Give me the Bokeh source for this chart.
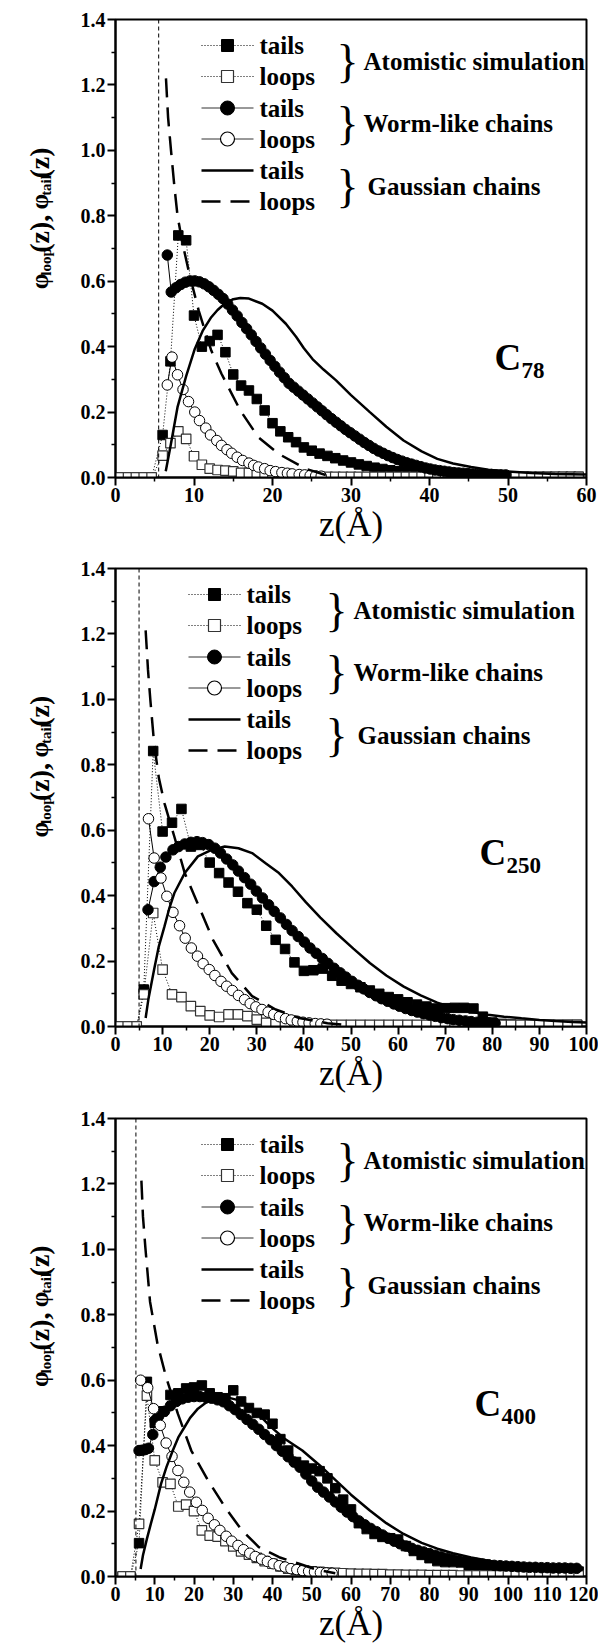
import math
from bokeh.plotting import figure
from bokeh.layouts import column, row
from bokeh.models import Range1d, FixedTicker, PrintfTickFormatter, Span
from bokeh.core.properties import value
from bokeh.embed import file_html
from bokeh.resources import INLINE

FONT = "Liberation Serif"

# ---------------- tick labels / names ----------------
y_ticks = [0.0, 0.2, 0.4, 0.6, 0.8, 1.0, 1.2, 1.4]
y_minor = [0.1, 0.3, 0.5, 0.7, 0.9, 1.1, 1.3]
x_ticks_c78 = [0, 10, 20, 30, 40, 50, 60]
x_minor_c78 = [5, 15, 25, 35, 45, 55]
x_ticks_c250 = [0, 10, 20, 30, 40, 50, 60, 70, 80, 90, 100]
x_minor_c250 = [5, 15, 25, 35, 45, 55, 65, 75, 85, 95]
x_ticks_c400 = [0, 10, 20, 30, 40, 50, 60, 70, 80, 90, 100, 110, 120]
x_minor_c400 = [5, 15, 25, 35, 45, 55, 65, 75, 85, 95, 105, 115]
legend_rows = ["tails", "loops", "tails", "loops", "tails", "loops"]
legend_groups = ["Atomistic simulation", "Worm-like chains", "Gaussian chains"]
y_title_parts = ["φ", "loop", "(z),", "φ", "tail", "(z)"]
wall_z = [5.5, 5.0, 5.2]

# ================= C78 =================
c78_at_x = [0.6, 1.6, 2.6, 3.6, 4.6,
            6, 7, 8, 9, 10, 11, 12, 13, 14, 15,
            16, 17, 18, 19, 20, 21, 22, 23, 24, 25,
            26, 27, 28, 29, 30, 31, 32, 33, 34, 35,
            36, 37, 38, 39, 40, 41, 42, 43, 44, 45,
            46, 47, 48, 49, 50, 51, 52, 53, 54, 55, 56, 57, 58, 59]
c78_at_tail = [0, 0, 0, 0, 0,
               0.130, 0.355, 0.740, 0.725, 0.495, 0.400, 0.417, 0.436, 0.383, 0.315,
               0.281, 0.266, 0.240, 0.205, 0.166, 0.141, 0.123, 0.108, 0.092, 0.082,
               0.073, 0.066, 0.059, 0.052, 0.046, 0.040, 0.035, 0.030, 0.026, 0.022,
               0.019, 0.016, 0.014, 0.012, 0.010, 0.009, 0.008, 0.007, 0.006, 0.005,
               0.004, 0.003, 0.003, 0.002, 0.002, 0.002, 0.002, 0.002, 0.002, 0.002, 0.002, 0.002, 0.002, 0.002]
c78_at_loop = [0, 0, 0, 0, 0,
               0.067, 0.105, 0.141, 0.118, 0.065, 0.039, 0.027, 0.023, 0.021, 0.019,
               0.014, 0.014, 0.009, 0.009, 0.007, 0.006, 0.005, 0.004, 0.003, 0.003,
               0.002, 0.002, 0.002, 0.002, 0.002, 0.002, 0.002, 0.002, 0.002, 0.002,
               0.002, 0.002, 0.002, 0.002, 0.002, 0.002, 0.002, 0.002, 0.002, 0.002,
               0.002, 0.002, 0.002, 0.002, 0.002, 0.002, 0.002, 0.002, 0.002, 0.002, 0.002, 0.002, 0.002, 0.002]
c78_wlc_tail_x = [6.6, 7.1, 7.7, 8.3, 8.9, 9.5, 10.1, 10.7, 11.3, 11.9,
                  12.5, 13.1, 13.7, 14.3, 14.9, 15.5, 16.1, 16.7, 17.3, 17.9,
                  18.5, 19.1, 19.7, 20.3, 20.9, 21.5, 22.1, 22.7, 23.3, 23.9,
                  24.5, 25.1, 25.7, 26.3, 26.9, 27.5, 28.1, 28.7, 29.3, 29.9,
                  30.5, 31.1, 31.7, 32.3, 32.9, 33.5, 34.1, 34.7, 35.3, 35.9,
                  36.5, 37.1, 37.7, 38.3, 38.9, 39.5, 40.1, 40.7, 41.3, 41.9,
                  42.5, 43.1, 43.7, 44.3, 44.9, 45.5, 46.1, 46.7, 47.3, 47.9,
                  48.5, 49.1, 49.7]
c78_wlc_tail = [0.680, 0.567, 0.580, 0.590, 0.597, 0.601, 0.601, 0.598, 0.592, 0.583,
                0.572, 0.560, 0.547, 0.530, 0.512, 0.494, 0.474, 0.455, 0.436, 0.416,
                0.396, 0.377, 0.358, 0.340, 0.322, 0.305, 0.288, 0.276, 0.264, 0.252,
                0.240, 0.228, 0.216, 0.204, 0.192, 0.180, 0.169, 0.158, 0.147, 0.137,
                0.127, 0.117, 0.107, 0.098, 0.089, 0.081, 0.074, 0.067, 0.061, 0.055,
                0.050, 0.045, 0.041, 0.037, 0.033, 0.029, 0.026, 0.023, 0.021, 0.019,
                0.017, 0.015, 0.014, 0.013, 0.012, 0.011, 0.010, 0.010, 0.009, 0.009,
                0.008, 0.008, 0.008]
c78_wlc_loop_x = [6.6, 7.2, 7.9, 8.6, 9.3, 10.1, 10.7, 11.5, 12.1, 12.9,
                  13.5, 14.2, 14.8, 15.5, 16.2, 17.0, 17.6, 18.2, 19.0, 19.7,
                  20.4, 21.2, 21.9, 22.5, 23.4, 24.1, 24.8, 25.5, 26.2]
c78_wlc_loop = [0.283, 0.368, 0.314, 0.269, 0.232, 0.200, 0.174, 0.151, 0.130, 0.113,
                0.098, 0.085, 0.074, 0.062, 0.052, 0.044, 0.037, 0.032, 0.027, 0.021,
                0.018, 0.015, 0.013, 0.011, 0.009, 0.008, 0.006, 0.005, 0.004]
c78_gauss_tail_x = [6.4, 7.0, 7.9, 9.0, 10.1, 11.1, 12.2, 13.0, 13.9, 15.0,
                    15.9, 17.0, 18.7, 20.0, 21.7, 23.0, 24.0, 25.1, 26.5, 28.1,
                    30.0, 32.4, 34.5, 36.7, 39.0, 41.0, 43.0, 45.3, 47.5, 49.6,
                    53.0, 56.0, 60.0]
c78_gauss_tail = [0.019, 0.095, 0.215, 0.310, 0.393, 0.448, 0.490, 0.512, 0.531, 0.545,
                  0.549, 0.547, 0.531, 0.510, 0.470, 0.430, 0.395, 0.362, 0.330, 0.297,
                  0.252, 0.200, 0.155, 0.113, 0.080, 0.057, 0.043, 0.032, 0.024, 0.019,
                  0.014, 0.011, 0.009]
c78_gauss_loop_x = [6.43, 6.7, 7.07, 7.5, 7.9, 8.5, 9.4, 10.6, 12.2, 13.5, 15.9, 18.2, 20.8, 24.2, 27.0]
c78_gauss_loop = [1.22, 1.10, 1.00, 0.89, 0.80, 0.72, 0.623, 0.51, 0.388, 0.317, 0.205, 0.123, 0.072, 0.027, 0.006]

# ================= C250 =================
c250_at_x = [0.7, 2.6, 4.5,
             6, 8, 10, 12, 14, 16, 18, 20, 22, 24,
             26, 28, 30, 32, 34, 36, 38, 40, 42, 44,
             46, 48, 50, 52, 54, 56, 58, 60, 62, 64,
             66, 68, 70, 72, 74, 76, 78, 80, 82, 84,
             86, 88, 90, 92, 94, 96, 98]
c250_at_tail = [0, 0, 0,
                0.113, 0.842, 0.596, 0.623, 0.665, 0.550, 0.555, 0.501, 0.469, 0.440,
                0.412, 0.377, 0.357, 0.308, 0.265, 0.237, 0.196, 0.170, 0.172, 0.177,
                0.155, 0.140, 0.130, 0.120, 0.110, 0.100, 0.090, 0.083, 0.074, 0.067,
                0.061, 0.055, 0.056, 0.057, 0.057, 0.055, 0.030, 0.012, 0.008, 0.006,
                0.005, 0.005, 0.005, 0.005, 0.005, 0.005, 0.005]
c250_at_loop = [0, 0, 0,
                0.098, 0.347, 0.174, 0.098, 0.090, 0.062, 0.047, 0.034, 0.029, 0.037,
                0.037, 0.032, 0.021, 0.011, 0.008, 0.006, 0.005, 0.005, 0.005, 0.005,
                0.005, 0.005, 0.005, 0.005, 0.005, 0.005, 0.005, 0.005, 0.005, 0.005,
                0.005, 0.005, 0.005, 0.005, 0.005, 0.005, 0.005, 0.005, 0.005, 0.005,
                0.005, 0.005, 0.005, 0.005, 0.005, 0.005, 0.005]
c250_wlc_tail_x = [6.9, 8.2, 9.5, 10.7, 12.2, 13.4, 14.7, 16.0, 17.3, 18.5,
                   19.8, 21.1, 22.3, 23.6, 24.9, 26.1, 27.4, 28.7, 29.9, 31.2,
                   32.5, 33.7, 35.0, 36.3, 37.5, 38.8, 40.1, 41.3, 42.6, 43.9,
                   45.1, 46.4, 47.7, 48.9, 50.2, 51.5, 52.7, 54.0, 55.3, 56.5,
                   57.8, 59.1, 60.3, 61.6, 62.9, 64.1, 65.4, 66.7, 67.9, 69.2,
                   70.5, 71.7, 73.0, 74.3, 75.5, 76.8, 78.1, 79.3, 80.6]
c250_wlc_tail = [0.357, 0.443, 0.487, 0.518, 0.540, 0.550, 0.558, 0.563, 0.565, 0.562,
                 0.556, 0.545, 0.530, 0.512, 0.494, 0.475, 0.455, 0.435, 0.414, 0.393,
                 0.372, 0.352, 0.332, 0.312, 0.293, 0.275, 0.258, 0.240, 0.224, 0.208,
                 0.193, 0.178, 0.164, 0.151, 0.138, 0.126, 0.115, 0.104, 0.094, 0.085,
                 0.077, 0.069, 0.062, 0.055, 0.049, 0.044, 0.039, 0.035, 0.031, 0.027,
                 0.024, 0.021, 0.019, 0.017, 0.015, 0.013, 0.012, 0.011, 0.010]
c250_wlc_loop_x = [7.0, 8.2, 9.65, 10.9, 12.2, 13.6, 14.8, 16.1, 17.4, 18.6,
                   19.9, 21.1, 22.4, 23.6, 24.8, 26.1, 27.4, 28.6, 29.8, 31.1,
                   32.4, 33.6, 34.8, 36.1, 37.3, 38.6, 39.8, 41.1, 42.4, 43.6, 44.9]
c250_wlc_loop = [0.635, 0.515, 0.454, 0.398, 0.349, 0.308, 0.270, 0.240, 0.215, 0.192,
                 0.174, 0.156, 0.138, 0.123, 0.110, 0.095, 0.082, 0.070, 0.060, 0.052,
                 0.044, 0.037, 0.030, 0.024, 0.020, 0.016, 0.013, 0.011, 0.009, 0.008, 0.007]
c250_gauss_tail_x = [6.4, 7.0, 8.2, 9.2, 10.4, 11.4, 12.5, 14.7, 17.5, 20.4,
                     23.2, 26.1, 29.0, 31.8, 34.7, 37.5, 40.4, 43.5, 46.9, 50.5,
                     54.0, 57.5, 61.2, 64.8, 68.3, 72.0, 75.5, 79.1, 82.5, 86.2,
                     90.0, 93.4, 97.0, 100.0]
c250_gauss_tail = [0.026, 0.085, 0.174, 0.245, 0.306, 0.360, 0.408, 0.469, 0.520, 0.540,
                   0.550, 0.545, 0.530, 0.500, 0.469, 0.428, 0.380, 0.333, 0.285, 0.238,
                   0.194, 0.156, 0.122, 0.095, 0.073, 0.056, 0.045, 0.036, 0.030, 0.025,
                   0.020, 0.017, 0.014, 0.012]
c250_gauss_loop_x = [6.4, 6.9, 7.4, 8.2, 9.2, 10.4, 12.5, 14.7, 17.7, 20.7, 24.7, 29.0, 34.0, 39.0, 45.0, 50.0]
c250_gauss_loop = [1.211, 1.09, 0.998, 0.865, 0.76, 0.682, 0.58, 0.469, 0.367, 0.265, 0.163, 0.093, 0.052, 0.026, 0.010, 0.004]

# ================= C400 =================
c400_at_x = [1.8, 3.8,
             6, 8, 10, 12, 14, 16, 18, 20, 22, 24,
             26, 28, 30, 32, 34, 36, 38, 40, 42, 44,
             46, 48, 50, 52, 54, 56, 58, 60, 62, 64,
             66, 68, 70, 72, 74, 76, 78, 80, 82, 84,
             86, 88, 90, 92, 94, 96, 98, 100, 102, 104,
             106, 108, 110, 112, 114, 116, 118]
c400_at_tail = [0, 0,
                0.102, 0.595, 0.470, 0.505, 0.555, 0.560, 0.575, 0.578, 0.584, 0.560,
                0.548, 0.545, 0.569, 0.535, 0.515, 0.500, 0.495, 0.467, 0.420, 0.385,
                0.350, 0.339, 0.330, 0.322, 0.300, 0.270, 0.235, 0.205, 0.163, 0.145,
                0.130, 0.121, 0.117, 0.113, 0.093, 0.078, 0.066, 0.056, 0.047, 0.044,
                0.044, 0.043, 0.032, 0.025, 0.022, 0.021, 0.020, 0.020, 0.019, 0.019,
                0.018, 0.018, 0.017, 0.017, 0.016, 0.016, 0.015]
c400_at_loop = [0, 0,
                0.161, 0.553, 0.355, 0.288, 0.283, 0.214, 0.220, 0.200, 0.141, 0.125,
                0.122, 0.108, 0.092, 0.077, 0.067, 0.057, 0.047, 0.039, 0.031, 0.024,
                0.020, 0.018, 0.016, 0.014, 0.012, 0.011, 0.010, 0.009, 0.008, 0.008,
                0.007, 0.007, 0.006, 0.006, 0.005, 0.005, 0.005, 0.004, 0.004, 0.004,
                0.004, 0.003, 0.003, 0.003, 0.003, 0.003, 0.003, 0.003, 0.003, 0.003,
                0.003, 0.003, 0.003, 0.003, 0.003, 0.003, 0.003]
c400_wlc_tail_x = [6.0, 6.8, 7.6, 8.4, 9.5, 10.1, 11.0, 12.5, 14.0, 15.5,
                   17.0, 18.5, 20.0, 21.5, 23.0, 24.5, 26.0, 27.5, 29.0, 30.5,
                   32.0, 33.5, 35.0, 36.5, 38.0, 39.5, 41.0, 42.5, 44.0, 45.5,
                   47.0, 48.5, 50.0, 51.5, 53.0, 54.5, 56.0, 57.5, 59.0, 60.5,
                   62.0, 63.5, 65.0, 66.5, 68.0, 69.5, 71.0, 72.5, 74.0, 75.5,
                   77.0, 78.5, 80.0, 81.5, 83.0, 84.5, 86.0, 87.5, 89.0, 90.5,
                   92.0, 93.5, 95.0, 96.5, 98.0, 99.5, 101.0, 102.5, 104.0, 105.5,
                   107.0, 108.5, 110.0, 111.5, 113.0, 114.5, 116.0, 117.5]
c400_wlc_tail = [0.385, 0.386, 0.388, 0.392, 0.434, 0.478, 0.490, 0.505, 0.522, 0.535,
                 0.543, 0.548, 0.550, 0.550, 0.548, 0.545, 0.540, 0.534, 0.522, 0.510,
                 0.495, 0.480, 0.465, 0.450, 0.434, 0.418, 0.400, 0.383, 0.366, 0.350,
                 0.334, 0.313, 0.292, 0.273, 0.258, 0.243, 0.228, 0.212, 0.197, 0.183,
                 0.170, 0.158, 0.147, 0.137, 0.127, 0.117, 0.108, 0.100, 0.093, 0.086,
                 0.080, 0.075, 0.070, 0.065, 0.060, 0.056, 0.052, 0.048, 0.045, 0.042,
                 0.040, 0.038, 0.036, 0.034, 0.033, 0.032, 0.031, 0.030, 0.029, 0.028,
                 0.028, 0.027, 0.027, 0.026, 0.026, 0.026, 0.025, 0.025]
c400_wlc_loop_x = [6.4, 8.2, 9.7, 11.4, 12.9, 14.4, 15.9, 17.4, 18.9, 20.6,
                   22.1, 23.6, 25.2, 26.6, 28.2, 29.6, 31.2, 32.6, 34.2, 35.6,
                   37.2, 38.7, 40.2, 41.7, 43.2, 44.7, 46.2, 47.7, 49.2, 50.7,
                   52.2, 53.7, 55.2]
c400_wlc_loop = [0.600, 0.577, 0.513, 0.462, 0.408, 0.367, 0.324, 0.288, 0.258, 0.227,
                 0.202, 0.178, 0.158, 0.141, 0.123, 0.108, 0.095, 0.082, 0.071, 0.061,
                 0.053, 0.046, 0.039, 0.033, 0.029, 0.024, 0.021, 0.018, 0.016, 0.014,
                 0.012, 0.011, 0.010]
c400_gauss_tail_x = [6.4, 7.0, 8.0, 9.0, 10.0, 11.6, 13.0, 14.6, 16.0, 17.6,
                     19.0, 21.0, 23.0, 25.0, 27.0, 29.0, 31.0, 33.0, 36.0, 39.5,
                     43.0, 47.6, 52.0, 56.2, 60.0, 64.8, 69.0, 73.4, 78.0, 82.0,
                     86.0, 90.6, 95.0, 99.2, 104.0, 108.0, 113.0, 119.0]
c400_gauss_tail = [0.023, 0.065, 0.115, 0.161, 0.205, 0.283, 0.335, 0.385, 0.425, 0.457,
                   0.485, 0.513, 0.531, 0.542, 0.548, 0.546, 0.540, 0.530, 0.502, 0.458,
                   0.422, 0.385, 0.340, 0.293, 0.250, 0.202, 0.163, 0.130, 0.103, 0.085,
                   0.071, 0.058, 0.048, 0.040, 0.033, 0.028, 0.024, 0.020]
c400_gauss_loop_x = [6.6, 7.0, 7.6, 8.8, 10.7, 12.9, 15.9, 19.3, 23.6, 27.9, 32.2, 36.5, 41.7, 46.8, 51.0, 56.0]
c400_gauss_loop = [1.21, 1.10, 1.007, 0.84, 0.711, 0.609, 0.497, 0.385, 0.293, 0.212, 0.141, 0.090, 0.059, 0.039, 0.022, 0.010]

# ---------------- drawing ----------------
SIDE = 60                      # width of the strip holding the rotated y title
LEFT = 115                     # frame left edge (page px)
FW, FH = 471, 458              # frame size
RIGHT = 598 - LEFT - FW
ROWS = [26, 57, 88.5, 119.5, 151, 182]


def txt(p, xs, ys, texts, size, style="bold", align="left", baseline="middle", angle=0.0):
    p.text(x=xs, y=ys, text=texts, angle=angle,
           text_font=value(FONT), text_font_size=size, text_font_style=style,
           text_baseline=baseline, text_align=align, text_color="black")


def side_title(top, bottom):
    h = top + FH + bottom
    s = figure(width=SIDE, height=h, x_range=Range1d(0, SIDE), y_range=Range1d(0, h),
               min_border=0, x_axis_type=None, y_axis_type=None,
               output_backend="svg", toolbar_location=None)
    s.outline_line_color = None
    s.background_fill_color = "white"
    s.border_fill_color = "white"
    # (font px, baseline x, advance px) -- reading bottom to top
    spec = [(25, 39, 16.3), (15, 45, 27.5), (28, 39, 52.1),
            (25, 39, 16.3), (15, 45, 20.8), (28, 39, 31.1)]
    py = top + 305
    for t, (fs, bx, adv) in zip(y_title_parts, spec):
        txt(s, [bx], [h - py], [t], f"{fs}px", baseline="alphabetic", angle=math.pi / 2)
        py -= adv
    return s


def build(xmax, xt, xm, top, bottom, wall, at_x, at_t, at_l, wt_x, wt, wl_x, wl,
          gt_x, gt, gl_x, gl, sub, lay):
    p = figure(frame_width=FW, frame_height=FH, min_border_left=LEFT - SIDE, min_border_right=RIGHT,
               min_border_top=top, min_border_bottom=bottom,
               x_range=Range1d(0, xmax), y_range=Range1d(0, 1.4),
               output_backend="svg", toolbar_location=None)
    p.background_fill_color = "white"
    p.border_fill_color = "white"
    p.outline_line_color = "black"
    p.outline_line_width = 2
    p.grid.visible = False
    p.xaxis.ticker = FixedTicker(ticks=xt, minor_ticks=xm)
    p.yaxis.ticker = FixedTicker(ticks=y_ticks, minor_ticks=y_minor)
    p.yaxis.formatter = PrintfTickFormatter(format="%.1f")
    p.axis.axis_line_width = 2
    p.axis.major_tick_line_width = 2
    p.axis.minor_tick_line_width = 1.5
    p.axis.major_tick_out = 8
    p.axis.major_tick_in = 0
    p.axis.minor_tick_out = 4
    p.axis.minor_tick_in = 0
    p.axis.major_label_text_font = FONT
    p.axis.major_label_text_font_style = "bold"
    p.axis.major_label_text_font_size = "20px"
    p.axis.major_label_text_color = "black"
    p.xaxis.major_label_standoff = 2
    p.yaxis.major_label_standoff = 2
    p.xaxis.axis_label = "z(Å)"
    p.xaxis.axis_label_text_font = FONT
    p.xaxis.axis_label_text_font_style = "normal"
    p.xaxis.axis_label_text_font_size = "35px"
    p.xaxis.axis_label_text_color = "black"
    p.xaxis.axis_label_standoff = 0

    def sx(px):
        return px * xmax / FW

    def sy(py):
        return 1.4 - py * 1.4 / FH

    p.add_layout(Span(location=wall, dimension="height", line_color="black",
                      line_width=1, line_dash="4 3"))

    # atomistic simulation
    p.line(at_x, at_t, line_color="black", line_width=1, line_dash="1 2")
    p.line(at_x, at_l, line_color="black", line_width=1, line_dash="1 2")
    p.scatter(at_x, at_t, marker="square", size=9.5, fill_color="black", line_color="black")
    p.scatter(at_x, at_l, marker="square", size=9.5, fill_color="white", line_color="#333333", line_width=1.2)
    # worm-like chains
    p.line(wt_x, wt, line_color="black", line_width=1)
    p.line(wl_x, wl, line_color="black", line_width=1)
    p.scatter(wt_x, wt, marker="circle", size=10.5, fill_color="black", line_color="black")
    p.scatter(wl_x, wl, marker="circle", size=10.5, fill_color="white", line_color="black", line_width=1)
    # gaussian chains
    p.line(gt_x, gt, line_color="black", line_width=2.5)
    p.line(gl_x, gl, line_color="black", line_width=2.5, line_dash="19 10")

    # ---- legend ----
    yr = [sy(r) for r in ROWS]
    x0, x1, xmk = sx(lay["lx0"]), sx(lay["lx1"]), sx(lay["mx"])
    p.line([x0, x1], [yr[0], yr[0]], line_color="black", line_width=1, line_dash="1 2")
    p.line([x0, x1], [yr[1], yr[1]], line_color="black", line_width=1, line_dash="1 2")
    p.line([x0, x1], [yr[2], yr[2]], line_color="#333333", line_width=1)
    p.line([x0, x1], [yr[3], yr[3]], line_color="#333333", line_width=1)
    p.line([x0, x1], [yr[4], yr[4]], line_color="black", line_width=2.5)
    p.line([x0, x1], [yr[5], yr[5]], line_color="black", line_width=2.5, line_dash="19 10")
    p.scatter([xmk], [yr[0]], marker="square", size=12, fill_color="black", line_color="black")
    p.scatter([xmk], [yr[1]], marker="square", size=12, fill_color="white", line_color="#333333", line_width=1.2)
    p.scatter([xmk], [yr[2]], marker="circle", size=14, fill_color="black", line_color="black")
    p.scatter([xmk], [yr[3]], marker="circle", size=14, fill_color="white", line_color="black", line_width=1.2)
    txt(p, [sx(lay["tx"])] * 6, yr, legend_rows, "25px")
    mids = [sy((ROWS[0] + ROWS[1]) / 2), sy((ROWS[2] + ROWS[3]) / 2), sy((ROWS[4] + ROWS[5]) / 2)]
    txt(p, [sx(lay["bx"])] * 3, mids, ["}"] * 3, "46px", style="normal", align="center")
    txt(p, [sx(g) for g in lay["gx"]], mids, legend_groups, "25px")

    # ---- chain label ----
    txt(p, [sx(lay["cx"])], [sy(lay["cb"])], ["C"], "37px", baseline="alphabetic")
    txt(p, [sx(lay["cx"] + 27)], [sy(lay["cb"] + 13)], [sub], "23px", baseline="alphabetic")
    return row(side_title(top, bottom), p, spacing=0)


lay1 = dict(lx0=86, lx1=138, mx=112, tx=144, bx=232, gx=[248, 248, 252], cx=379, cb=338)
lay2 = dict(lx0=73, lx1=125, mx=99, tx=131, bx=221, gx=[238, 238, 242], cx=364, cb=284)
lay3 = dict(lx0=86, lx1=138, mx=112, tx=144, bx=232, gx=[248, 248, 252], cx=359, cb=285)

r1 = build(60, x_ticks_c78, x_minor_c78, 19, 73, wall_z[0],
           c78_at_x, c78_at_tail, c78_at_loop, c78_wlc_tail_x, c78_wlc_tail,
           c78_wlc_loop_x, c78_wlc_loop, c78_gauss_tail_x, c78_gauss_tail,
           c78_gauss_loop_x, c78_gauss_loop, "78", lay1)
r2 = build(100, x_ticks_c250, x_minor_c250, 18, 74, wall_z[1],
           c250_at_x, c250_at_tail, c250_at_loop, c250_wlc_tail_x, c250_wlc_tail,
           c250_wlc_loop_x, c250_wlc_loop, c250_gauss_tail_x, c250_gauss_tail,
           c250_gauss_loop_x, c250_gauss_loop, "250", lay2)
r3 = build(120, x_ticks_c400, x_minor_c400, 18, 75, wall_z[2],
           c400_at_x, c400_at_tail, c400_at_loop, c400_wlc_tail_x, c400_wlc_tail,
           c400_wlc_loop_x, c400_wlc_loop, c400_gauss_tail_x, c400_gauss_tail,
           c400_gauss_loop_x, c400_gauss_loop, "400", lay3)

layout = column(r1, r2, r3, spacing=0)
open("out.html", "w").write(file_html(layout, INLINE))
